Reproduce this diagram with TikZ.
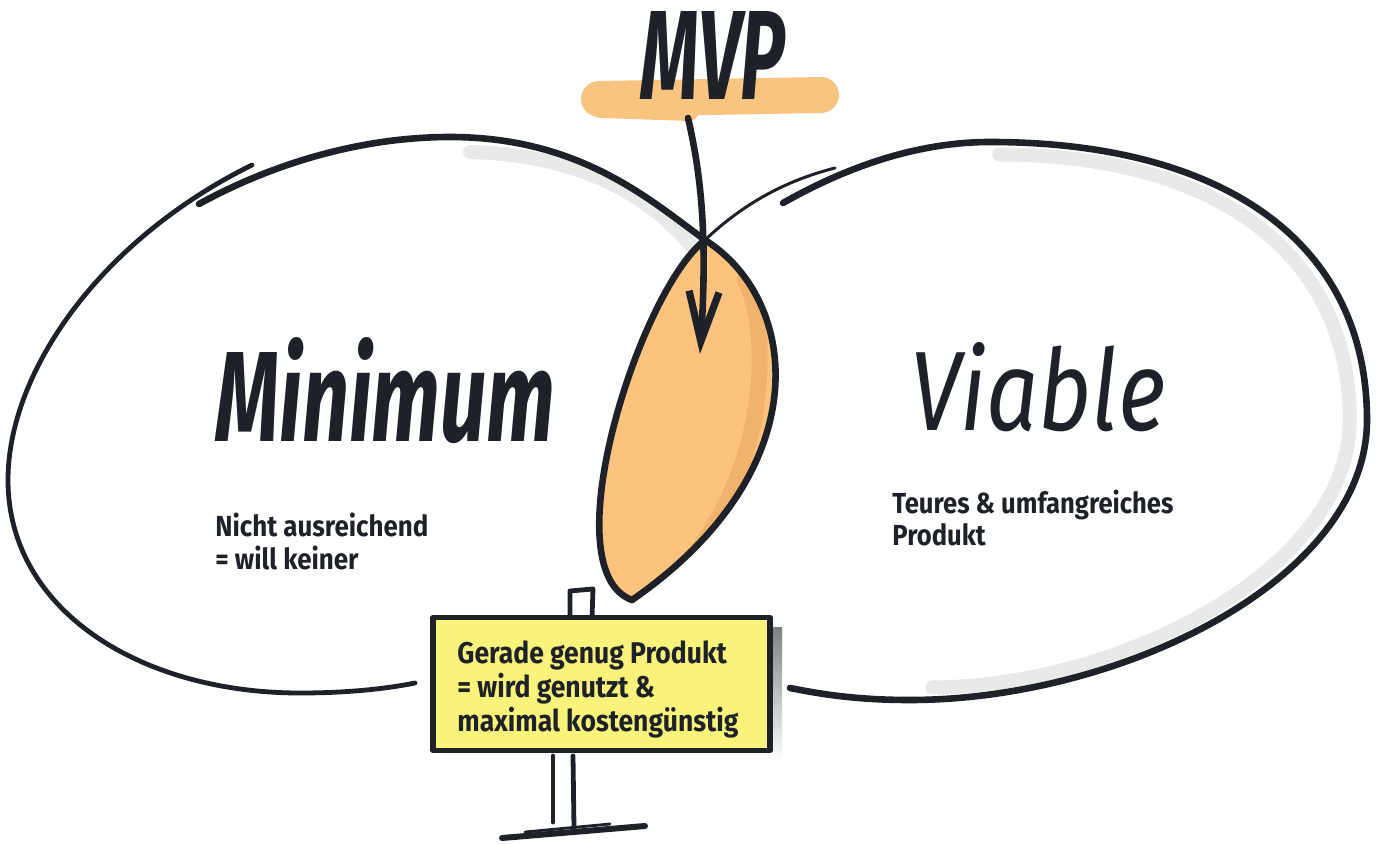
\documentclass[tikz,border=0pt]{standalone}
\usepackage{fontspec}
\usepackage{graphicx}
\usetikzlibrary{arrows.meta}
\newfontfamily\markerfont{Fira Sans}
\definecolor{ink}{HTML}{1E2228}
\definecolor{lensfill}{HTML}{FBC37E}
\definecolor{lensdark}{HTML}{F1B36B}
\definecolor{barfill}{HTML}{F8C581}
\definecolor{signfill}{HTML}{F9F37B}
\definecolor{shade}{HTML}{E9E9E9}
\begin{document}
\begin{tikzpicture}[x=0.5pt,y=-0.5pt, line cap=round, line join=round,
  outline/.style={draw=ink, line width=3.3pt},
  shadowband/.style={draw=shade, line width=7pt},
  smalltext/.style={inner sep=0pt, anchor=base west, text=ink, font=\markerfont\bfseries\fontsize{14.5}{16}\selectfont},
  signtextstyle/.style={inner sep=0pt, anchor=base west, text=ink, font=\markerfont\bfseries\fontsize{15}{16.5}\selectfont},
  bigword/.style={inner sep=0pt, anchor=base west, text=ink},
  signbox/.style={draw=ink, line width=2.6pt, fill=signfill, minimum width=168.5pt, minimum height=66.5pt, inner sep=0pt},
  poststroke/.style={draw=ink, line width=2.4pt},
]
\useasboundingbox (0,0) rectangle (1377,845);
\fill[white] (0,0) rectangle (1377,845);

\coordinate (ptop) at (705,240);
\coordinate (pbot) at (632,600);

% shadow bands
\begin{scope}[shift={(983,420)}, scale=0.955, shift={(-983,-420)}]
  \draw[shadowband] (1000,142) .. controls (1220,142) and (1367,240) .. (1367,420) .. controls (1367,580) and (1120,700) .. (930,700);
\end{scope}
\draw[shadowband] (470,152) .. controls (580,155) and (650,195) .. (695,250);

% lens
\fill[lensfill] (ptop) .. controls (800,300) and (820,470) .. (pbot) .. controls (550,570) and (640,290) .. (ptop) -- cycle;
\begin{scope}
  \clip (ptop) .. controls (800,300) and (820,470) .. (pbot) .. controls (550,570) and (640,290) .. (ptop) -- cycle;
  \draw[lensdark, line width=8pt] (745,280) .. controls (770,330) and (770,460) .. (690,560);
\end{scope}

% left ellipse
\draw[outline] (199,204) .. controls (273.7,163) and (362,137) .. (450,137) .. controls (580,137) and (650,200) .. (ptop) .. controls (800,300) and (820,470) .. (pbot);
\draw[ink, line width=2.4pt] (415,683) .. controls (380,690) and (340,693) .. (300,693) .. controls (140,693) and (8,610) .. (8,480) .. controls (8,372) and (100,240) .. (252,165);

% right ellipse
\draw[outline] (pbot) .. controls (550,570) and (640,290) .. (ptop);
\draw[ink, line width=1.5pt] (ptop) .. controls (745,202) and (788,180) .. (835,168);
\draw[outline] (783,203) .. controls (850,165) and (920,142) .. (990,142) .. controls (1220,142) and (1367,240) .. (1367,420) .. controls (1367,580) and (1120,700) .. (910,700) .. controls (860,700) and (825,695) .. (790,688);

% MVP label
\draw[barfill, line width=18pt] (599,99) -- (821,95);
\draw[barfill, line width=8pt] (600,110) -- (690,113);
\node[bigword] (mvp) at (640,100) {\resizebox{72.5pt}{44pt}{\markerfont\bfseries\itshape MVP}};

% arrow
\coordinate (arrowstart) at (688,118);
\coordinate (tip) at (700,354);
\draw[ink, line width=3.3pt, -{Straight Barb[length=25pt, width=15pt, line width=3.6pt]}] (arrowstart) .. controls (700,170) and (708,230) .. (tip);

% sign
\fill[shade] (443,627) rectangle (782,760);
\draw[poststroke] (570,618) -- (570,591) -- (593,589) -- (592,618);
\node[signbox] (sign) at (601.5,684) {};
\node[signtextstyle] (signtext) at (457,663) {\resizebox{140.5pt}{\height}{\begin{tabular}[t]{@{}l@{}}Gerade genug Produkt\\= wird genutzt \&\\maximal kostengünstig\end{tabular}}};
\draw[poststroke] (553,756) -- (553,822);
\draw[poststroke] (573,756) -- (574,828);
\draw[ink, line width=3pt] (502,838) -- (645,826);
\draw[ink, line width=1.4pt] (525,832) -- (610,824);

% words
\node[bigword] (minimum) at (215,442) {\resizebox{170pt}{52pt}{\markerfont\bfseries\itshape Minimum}};
\node[bigword] (viable) at (910,430) {\resizebox{127.5pt}{44pt}{\markerfont\itshape Viable}};
\node[smalltext] (mintext) at (215,536) {\resizebox{106.5pt}{\height}{\begin{tabular}[t]{@{}l@{}}Nicht ausreichend\\= will keiner\end{tabular}}};
\node[smalltext] (viatext) at (892,513) {\resizebox{140.5pt}{\height}{\begin{tabular}[t]{@{}l@{}}Teures \& umfangreiches\\Produkt\end{tabular}}};
\end{tikzpicture}
\end{document}
